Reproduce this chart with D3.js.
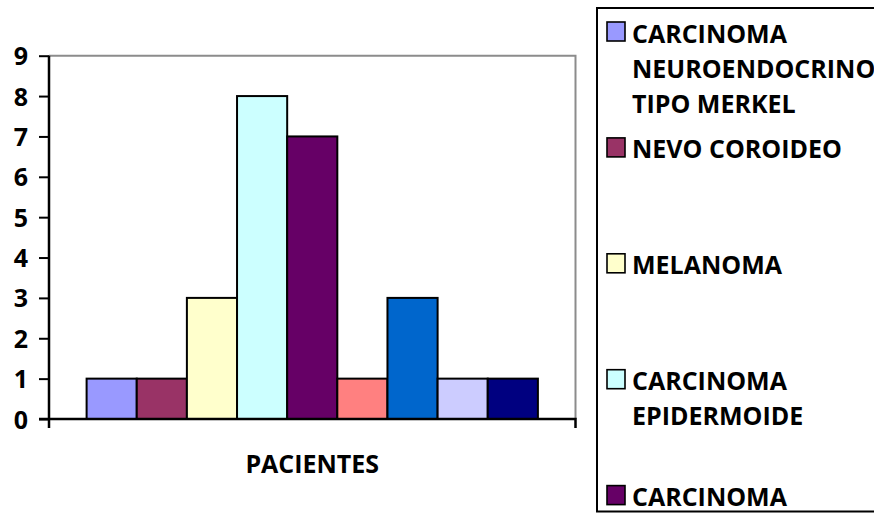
<!DOCTYPE html>
<html>
<head>
<meta charset="utf-8">
<script src="https://cdn.jsdelivr.net/npm/d3@7"></script>
<style>
  html, body { margin: 0; padding: 0; background: #fff; }
  svg { display: block; }
  text { font-family: "Open Sans", Lato, sans-serif; font-weight: 700; fill: #000; }
</style>
</head>
<body>
<svg id="chart" width="874" height="513"></svg>
<script>
// Category on the x axis
const categories = ["PACIENTES"];

// One series per diagnosis, patient counts
const seriesKeys = ["s1", "s2", "s3", "s4", "s5", "s6", "s7", "s8", "s9"];
const seriesValues = [1, 1, 3, 8, 7, 1, 3, 1, 1];
const seriesColors = ["#9999FF", "#993366", "#FFFFCC", "#CCFFFF", "#660066",
                      "#FF8080", "#0066CC", "#CCCCFF", "#000080"];

// Legend labels (wrapped lines), in series order
const legendLabels = [
  ["CARCINOMA", "NEUROENDOCRINO", "TIPO MERKEL"],
  ["NEVO COROIDEO"],
  ["MELANOMA"],
  ["CARCINOMA", "EPIDERMOIDE"],
  ["CARCINOMA"]
];

// Y axis ticks
const yTicks = [0, 1, 2, 3, 4, 5, 6, 7, 8, 9];

const svg = d3.select("#chart");

const plot = { left: 49, right: 575.5, top: 55.7, bottom: 419 };

const y = d3.scaleLinear().domain([0, 9]).range([plot.bottom, plot.top]);

const x0 = d3.scaleBand()
  .domain(categories)
  .range([plot.left, plot.right])
  .paddingInner(0)
  .paddingOuter(0.75 / 9);

const x1 = d3.scaleBand()
  .domain(seriesKeys)
  .range([0, x0.bandwidth()])
  .padding(0);

// Plot frame: grey top and right edges
svg.append("path")
  .attr("d", `M${plot.left},${plot.top}H${plot.right}V${plot.bottom}`)
  .attr("fill", "none")
  .attr("stroke", "#8c8c8c")
  .attr("stroke-width", 2);

// Bars
const group = svg.append("g");
categories.forEach(cat => {
  group.selectAll("rect.bar")
    .data(seriesKeys.map((k, i) => ({ key: k, value: seriesValues[i], color: seriesColors[i] })))
    .join("rect")
    .attr("class", "bar")
    .attr("x", d => x0(cat) + x1(d.key))
    .attr("y", d => y(d.value))
    .attr("width", x1.bandwidth())
    .attr("height", d => y(0) - y(d.value))
    .attr("fill", d => d.color)
    .attr("stroke", "#000")
    .attr("stroke-width", 2);
});

// Y axis
const yAxis = svg.append("g")
  .attr("transform", `translate(${plot.left},0)`)
  .call(d3.axisLeft(y).tickValues(yTicks).tickFormat(d3.format("d")).tickSize(10).tickPadding(11));
yAxis.select(".domain").attr("stroke", "#000").attr("stroke-width", 2.5)
  .attr("d", `M0,${plot.top}V${plot.bottom + 9}`);
yAxis.selectAll(".tick line").attr("stroke", "#000").attr("stroke-width", 2);
yAxis.selectAll(".tick text")
  .style("font-family", "'Open Sans', Lato, sans-serif")
  .style("font-weight", 700)
  .style("font-size", "25px")
  .attr("dy", "0.36em");

// X axis
const xAxis = svg.append("g")
  .attr("transform", `translate(0,${plot.bottom})`);
xAxis.append("path")
  .attr("d", `M${plot.left - 10},0H${plot.right}V9`)
  .attr("fill", "none")
  .attr("stroke", "#000")
  .attr("stroke-width", 2.5);
xAxis.selectAll("text")
  .data(categories)
  .join("text")
  .attr("x", d => x0(d) + x0.bandwidth() / 2)
  .attr("y", 54)
  .attr("text-anchor", "middle")
  .style("font-size", "25px")
  .text(d => d);

// Legend
const legend = { left: 597, top: 8, bottom: 511.5, step: 115.9, firstCenter: 31.5, lineGap: 35, fs: 25 };
svg.append("rect")
  .attr("x", legend.left)
  .attr("y", legend.top)
  .attr("width", 900 - legend.left)
  .attr("height", legend.bottom - legend.top)
  .attr("fill", "#fff")
  .attr("stroke", "#000")
  .attr("stroke-width", 2);

const entries = svg.append("g").selectAll("g")
  .data(legendLabels.map((lines, i) => ({ lines, color: seriesColors[i], i })))
  .join("g")
  .attr("transform", d => `translate(0,${legend.firstCenter + d.i * legend.step})`);

entries.append("rect")
  .attr("x", 607)
  .attr("y", -9.5)
  .attr("width", 18)
  .attr("height", 19)
  .attr("fill", d => d.color)
  .attr("stroke", "#000")
  .attr("stroke-width", 1.6);

entries.append("text")
  .style("font-size", legend.fs + "px")
  .selectAll("tspan")
  .data(d => d.lines)
  .join("tspan")
  .attr("x", 632)
  .attr("y", (d, j) => 2 + j * legend.lineGap)
  .attr("dy", "0.36em")
  .text(d => d);
</script>
</body>
</html>
